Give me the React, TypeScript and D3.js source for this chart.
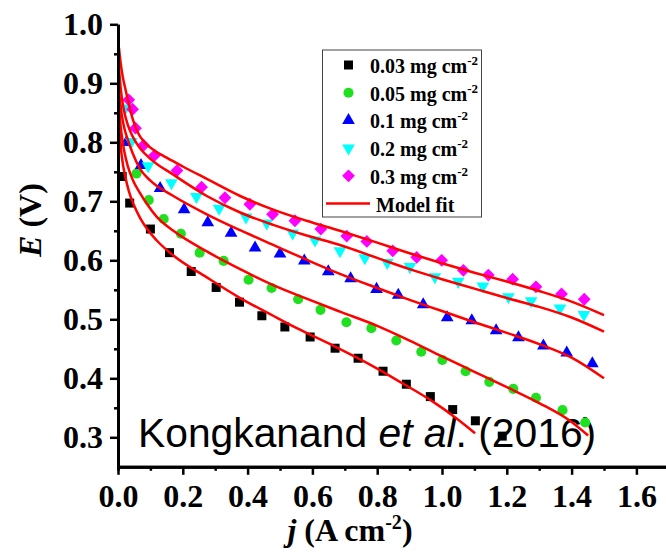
import React, { useEffect, useRef } from "react";
import * as d3 from "d3";

// tick values
const xTicks = [0, 0.2, 0.4, 0.6, 0.8, 1.0, 1.2, 1.4, 1.6];
const xMinor = [0.1, 0.3, 0.5, 0.7, 0.9, 1.1, 1.3, 1.5];
const yTicks = [0.3, 0.4, 0.5, 0.6, 0.7, 0.8, 0.9, 1.0];
const yMinor = [0.35, 0.45, 0.55, 0.65, 0.75, 0.85, 0.95];

const loadings = ["0.03", "0.05", "0.1", "0.2", "0.3"];

// measured points [j, E]
const data003 = [[0.013,0.742],[0.036,0.697],[0.100,0.653],[0.159,0.613],[0.226,0.581],[0.303,0.554],[0.375,0.529],[0.444,0.506],[0.515,0.487],[0.593,0.470],[0.670,0.451],[0.741,0.434],[0.818,0.412],[0.890,0.390],[0.964,0.369],[1.033,0.347],[1.103,0.328],[1.186,0.302]];
const data005 = [[0.057,0.747],[0.095,0.702],[0.141,0.670],[0.194,0.645],[0.252,0.613],[0.326,0.599],[0.403,0.567],[0.474,0.553],[0.556,0.534],[0.625,0.516],[0.705,0.495],[0.782,0.485],[0.859,0.464],[0.936,0.445],[1.001,0.431],[1.073,0.412],[1.146,0.394],[1.220,0.382],[1.290,0.367],[1.372,0.346],[1.442,0.325]];
const data01 = [[0.026,0.800],[0.071,0.761],[0.130,0.722],[0.204,0.686],[0.277,0.664],[0.349,0.646],[0.423,0.621],[0.500,0.611],[0.575,0.599],[0.649,0.581],[0.718,0.569],[0.798,0.551],[0.865,0.541],[0.942,0.525],[1.016,0.503],[1.092,0.498],[1.167,0.481],[1.236,0.469],[1.313,0.455],[1.385,0.443],[1.464,0.425]];
const data02 = [[0.0225,0.858],[0.041,0.801],[0.093,0.760],[0.165,0.731],[0.242,0.708],[0.312,0.688],[0.395,0.673],[0.459,0.663],[0.539,0.646],[0.608,0.634],[0.685,0.616],[0.762,0.604],[0.831,0.596],[0.901,0.589],[0.978,0.572],[1.050,0.564],[1.126,0.556],[1.205,0.538],[1.275,0.531],[1.364,0.519],[1.438,0.508]];
const data03 = [[0.033,0.872],[0.045,0.856],[0.054,0.824],[0.079,0.795],[0.113,0.778],[0.182,0.752],[0.258,0.724],[0.330,0.706],[0.407,0.695],[0.477,0.678],[0.546,0.667],[0.626,0.653],[0.706,0.641],[0.768,0.632],[0.848,0.616],[0.922,0.605],[0.999,0.600],[1.066,0.583],[1.143,0.575],[1.218,0.568],[1.290,0.555],[1.369,0.543],[1.439,0.534]];

// model fit curves [j, E]
const fit003 = [[0.002,0.855],[0.006,0.81],[0.012,0.775],[0.0225,0.742],[0.033,0.718],[0.048,0.695],[0.068,0.672],[0.09,0.653],[0.119,0.634],[0.171,0.608],[0.274,0.571],[0.377,0.536],[0.479,0.506],[0.552,0.485],[0.665,0.455],[0.768,0.426],[0.87,0.394],[0.973,0.36],[1.045,0.332],[1.102,0.307]];
const fit005 = [[0.002,0.875],[0.006,0.84],[0.012,0.81],[0.02,0.783],[0.03,0.76],[0.045,0.737],[0.068,0.714],[0.09,0.695],[0.119,0.674],[0.171,0.65],[0.274,0.615],[0.377,0.585],[0.479,0.558],[0.582,0.535],[0.685,0.513],[0.8,0.489],[0.9,0.464],[1.0,0.437],[1.1,0.411],[1.2,0.385],[1.3,0.358],[1.4,0.326],[1.451,0.303]];
const fit01 = [[0.002,0.895],[0.006,0.87],[0.012,0.845],[0.02,0.823],[0.03,0.805],[0.045,0.782],[0.068,0.755],[0.1,0.735],[0.171,0.709],[0.274,0.678],[0.377,0.651],[0.479,0.626],[0.582,0.601],[0.685,0.577],[0.8,0.553],[0.9,0.533],[1.0,0.514],[1.1,0.495],[1.2,0.477],[1.3,0.458],[1.4,0.435],[1.5,0.4]];
const fit02 = [[0.002,0.935],[0.006,0.905],[0.012,0.875],[0.02,0.85],[0.03,0.83],[0.045,0.81],[0.068,0.79],[0.1,0.772],[0.171,0.745],[0.274,0.709],[0.377,0.681],[0.479,0.66],[0.582,0.642],[0.685,0.626],[0.8,0.604],[0.9,0.585],[1.0,0.568],[1.1,0.552],[1.2,0.536],[1.3,0.521],[1.4,0.503],[1.5,0.479]];
const fit03 = [[0.003,0.96],[0.008,0.935],[0.015,0.91],[0.023,0.89],[0.033,0.866],[0.045,0.84],[0.06,0.818],[0.08,0.801],[0.11,0.787],[0.15,0.774],[0.2,0.759],[0.274,0.738],[0.377,0.709],[0.479,0.686],[0.582,0.667],[0.685,0.65],[0.8,0.63],[0.9,0.612],[1.0,0.595],[1.1,0.579],[1.2,0.564],[1.3,0.548],[1.4,0.53],[1.5,0.507]];

const seriesData = [data003, data005, data01, data02, data03];
const fitData = [fit003, fit005, fit01, fit02, fit03];

const colors = ["#000000", "#1ee01e", "#0000ff", "#00ffff", "#ff00ff"];
const serif = "'Liberation Serif', 'Times New Roman', serif";

const symbolFor = (i) => {
  if (i === 0) return { path: d3.symbol().type(d3.symbolSquare).size(81)(), rot: 0 };
  if (i === 1) return { path: d3.symbol().type(d3.symbolCircle).size(80)(), rot: 0 };
  if (i === 2) return { path: d3.symbol().type(d3.symbolTriangle).size(70)(), rot: 0 };
  if (i === 3) return { path: d3.symbol().type(d3.symbolTriangle).size(70)(), rot: 180 };
  return { path: d3.symbol().type(d3.symbolSquare).size(82)(), rot: 45 };
};

const App = () => {
  const ref = useRef(null);

  useEffect(() => {
    const svg = d3.select(ref.current);
    svg.selectAll("*").remove();

    const x = d3.scaleLinear().domain([0, 1.7]).range([118, 118 + 1.7 * 324]);
    const y = d3.scaleLinear().domain([0.25, 1.0]).range([466.8, 24.3]);

    // annotation sits under the marks
    const note = svg
      .append("text")
      .attr("x", 138)
      .attr("y", 447)
      .attr("font-family", "'Liberation Sans', Arial, sans-serif")
      .attr("font-size", 40.8)
      .attr("fill", "#000");
    note.append("tspan").text("Kongkanand ");
    note.append("tspan").attr("font-style", "italic").text("et al");
    note.append("tspan").text(". (2016)");

    // markers
    seriesData.forEach((pts, i) => {
      const s = symbolFor(i);
      svg
        .append("g")
        .selectAll("path")
        .data(pts)
        .join("path")
        .attr("d", s.path)
        .attr("fill", colors[i])
        .attr("transform", (d) => `translate(${x(d[0])},${y(d[1])}) rotate(${s.rot})`);
    });

    // fits
    const line = d3
      .line()
      .x((d) => x(d[0]))
      .y((d) => y(d[1]))
      .curve(d3.curveMonotoneX);
    fitData.forEach((pts) => {
      svg
        .append("path")
        .attr("d", line(pts))
        .attr("fill", "none")
        .attr("stroke", "#ff0000")
        .attr("stroke-width", 2.5);
    });

    // axes
    const styleAxis = (g) => {
      g.attr("font-family", serif).attr("font-size", 32).attr("font-weight", "bold");
      g.selectAll("path.domain").attr("stroke-width", 3).attr("stroke", "#000");
      g.selectAll(".tick line").attr("stroke-width", 2.5).attr("stroke", "#000");
      g.selectAll(".tick text").attr("fill", "#000");
    };

    svg
      .append("g")
      .attr("transform", `translate(0,${y(0.25)})`)
      .call(d3.axisBottom(x).tickValues(xMinor).tickSize(4).tickFormat(() => ""))
      .call(styleAxis);
    svg
      .append("g")
      .attr("transform", `translate(0,${y(0.25)})`)
      .call(
        d3
          .axisBottom(x)
          .tickValues(xTicks)
          .tickSize(8)
          .tickSizeOuter(0)
          .tickPadding(9)
          .tickFormat(d3.format(".1f"))
      )
      .call(styleAxis);

    svg
      .append("g")
      .attr("transform", `translate(${x(0)},0)`)
      .call(d3.axisLeft(y).tickValues(yMinor).tickSize(4).tickSizeOuter(0).tickFormat(() => ""))
      .call(styleAxis);
    svg
      .append("g")
      .attr("transform", `translate(${x(0)},0)`)
      .call(
        d3
          .axisLeft(y)
          .tickValues(yTicks)
          .tickSize(8)
          .tickSizeOuter(0)
          .tickPadding(7)
          .tickFormat(d3.format(".1f"))
      )
      .call(styleAxis);

    // axis titles
    const yl = svg
      .append("text")
      .attr("transform", "translate(41,220) rotate(-90)")
      .attr("text-anchor", "middle")
      .attr("font-family", serif)
      .attr("font-weight", "bold")
      .attr("font-size", 32);
    yl.append("tspan").attr("font-style", "italic").text("E");
    yl.append("tspan").text(" (V)");

    const xl = svg
      .append("text")
      .attr("x", 350)
      .attr("y", 541)
      .attr("text-anchor", "middle")
      .attr("font-family", serif)
      .attr("font-weight", "bold")
      .attr("font-size", 32);
    xl.append("tspan").attr("font-style", "italic").text("j");
    xl.append("tspan").text(" (A cm");
    xl.append("tspan").attr("font-size", 20).attr("dy", -12).text("-2");
    xl.append("tspan").attr("dy", 12).text(")");

    // legend
    const lg = svg.append("g");
    lg.append("rect")
      .attr("x", 322.5)
      .attr("y", 50)
      .attr("width", 159)
      .attr("height", 167)
      .attr("fill", "#fff")
      .attr("stroke", "#444")
      .attr("stroke-width", 1);
    const rowY = (i) => 65 + i * 27.7;
    loadings.forEach((l, i) => {
      const s = symbolFor(i);
      lg.append("path")
        .attr("d", s.path)
        .attr("fill", colors[i])
        .attr("transform", `translate(348.5,${rowY(i)}) rotate(${s.rot})`);
      const t = lg
        .append("text")
        .attr("x", 370)
        .attr("y", rowY(i) + 8)
        .attr("font-family", serif)
        .attr("font-weight", "bold")
        .attr("font-size", 20);
      t.append("tspan").text(`${l} mg cm`);
      t.append("tspan").attr("font-size", 13).attr("dy", -8).text("-2");
    });
    lg.append("line")
      .attr("x1", 326)
      .attr("x2", 370)
      .attr("y1", rowY(5))
      .attr("y2", rowY(5))
      .attr("stroke", "#ff0000")
      .attr("stroke-width", 2.5);
    lg.append("text")
      .attr("x", 376)
      .attr("y", rowY(5) + 8)
      .attr("font-family", serif)
      .attr("font-weight", "bold")
      .attr("font-size", 20)
      .text("Model fit");
  }, []);

  return (
    <svg
      ref={ref}
      width={666}
      height={552}
      style={{ position: "absolute", left: 0, top: 0, background: "#fff" }}
    />
  );
};

export default App;
